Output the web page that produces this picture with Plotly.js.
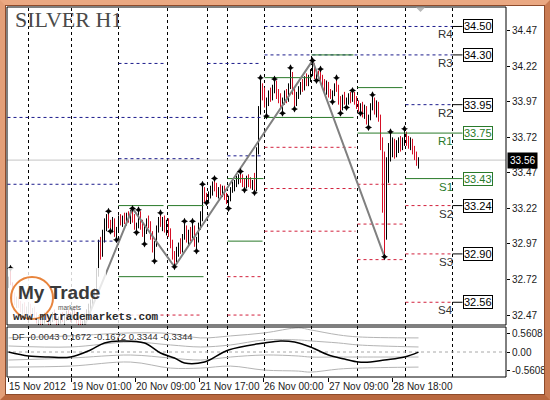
<!DOCTYPE html>
<html><head><meta charset="utf-8">
<script src="https://cdn.plot.ly/plotly-3.0.1.min.js"></script>
<style>
html,body{margin:0;padding:0;background:#fff;}
#wrap{position:relative;width:550px;height:400px;overflow:hidden;}
#chart{position:absolute;left:0;top:0;width:550px;height:400px;}
#frame{position:absolute;left:0;top:0;width:550px;height:400px;box-sizing:border-box;border:5px solid #de9670;border-color:#eaa882 #c97b53 #b9683f #e39f78;box-shadow:inset 0 0 0 1px #8e4b2b;pointer-events:none;}
</style></head>
<body><div id="wrap"><div id="chart"></div><div id="frame"></div></div>
<script>
// ---- data (H1 bars, index = bar number) ----
const barOpen = [32.70,32.72,32.69,32.60,32.56,32.58,32.54,32.51,32.53,32.49,
32.51,32.53,32.48,32.50,32.46,32.43,32.45,32.41,32.43,32.47,
32.44,32.41,32.44,32.47,32.45,32.42,32.44,32.46,32.43,32.45,
32.48,32.46,32.47,32.50,32.46,32.43,32.41,32.40,32.42,32.46,
32.49,32.53,32.56,32.60,32.63,32.78,32.95,32.90,33.03,33.12,
33.16,33.09,33.08,33.13,33.04,33.07,33.14,33.12,33.15,33.13,
33.17,33.14,33.19,33.14,33.09,33.10,33.18,33.09,33.05,33.07,
33.13,33.10,33.03,32.94,32.97,33.08,33.14,33.11,33.13,33.07,
33.12,33.04,32.96,32.88,32.86,32.92,32.95,32.93,33.02,33.06,
33.01,33.05,33.03,33.08,32.97,33.00,33.10,33.17,33.35,33.29,
33.28,33.32,33.35,33.38,33.36,33.33,33.35,33.33,33.36,33.30,
33.27,33.29,33.35,33.39,33.41,33.43,33.45,33.42,33.39,33.38,
33.43,33.39,33.37,33.40,33.36,33.62,33.90,34.06,34.02,33.96,
33.97,34.03,34.00,34.07,34.10,34.02,33.99,33.95,33.98,34.03,
33.99,34.08,34.15,34.04,33.96,34.02,34.06,34.09,34.07,34.13,
34.11,34.14,34.18,34.22,34.15,34.17,34.16,34.12,34.08,34.06,
34.09,34.02,34.01,34.03,34.08,34.06,33.97,33.93,34.00,33.97,
33.98,34.01,33.99,34.02,33.97,33.94,33.92,33.94,33.88,33.92,
33.83,33.86,33.94,33.97,33.91,33.95,33.85,33.66,33.30,33.02,
33.52,33.62,33.66,33.68,33.60,33.67,33.70,33.65,33.70,33.74,
33.69,33.66,33.70,33.62,33.58,33.55];
const barHigh = [32.74,32.80,32.70,32.63,32.60,32.60,32.57,32.55,32.56,32.53,
32.56,32.55,32.52,32.53,32.49,32.47,32.48,32.45,32.49,32.50,
32.47,32.46,32.49,32.51,32.48,32.46,32.48,32.49,32.47,32.50,
32.51,32.49,32.52,32.53,32.49,32.46,32.44,32.43,32.48,32.51,
32.55,32.58,32.62,32.66,32.80,33.00,33.02,33.07,33.15,33.18,
33.20,33.14,33.16,33.15,33.09,33.17,33.18,33.17,33.19,33.19,
33.20,33.21,33.22,33.18,33.12,33.21,33.20,33.14,33.10,33.15,
33.17,33.13,33.06,32.99,33.10,33.16,33.19,33.16,33.17,33.14,
33.15,33.08,33.00,32.92,32.95,32.98,33.01,33.04,33.13,33.10,
33.07,33.09,33.13,33.10,33.02,33.12,33.20,33.39,33.37,33.33,
33.34,33.38,33.41,33.43,33.40,33.37,33.39,33.38,33.38,33.33,
33.31,33.37,33.41,33.42,33.45,33.46,33.48,33.46,33.43,33.45,
33.46,33.44,33.42,33.47,33.65,33.94,34.14,34.10,34.07,34.00,
34.05,34.07,34.09,34.13,34.12,34.06,34.03,34.00,34.05,34.06,
34.10,34.21,34.18,34.07,34.04,34.08,34.11,34.13,34.15,34.17,
34.16,34.20,34.26,34.24,34.19,34.19,34.20,34.16,34.13,34.12,
34.11,34.06,34.05,34.10,34.14,34.09,34.01,34.02,34.04,34.00,
34.03,34.04,34.05,34.04,34.01,33.98,33.96,33.97,33.95,33.94,
33.88,33.96,34.02,34.00,33.98,33.97,33.88,33.72,33.62,33.58,
33.68,33.76,33.72,33.71,33.70,33.72,33.73,33.72,33.78,33.76,
33.73,33.72,33.71,33.66,33.62,33.58];
const barLow = [32.66,32.68,32.58,32.54,32.52,32.52,32.49,32.47,32.48,32.46,
32.48,32.46,32.44,32.45,32.41,32.39,32.40,32.37,32.41,32.42,
32.39,32.38,32.42,32.43,32.40,32.38,32.41,32.42,32.39,32.43,
32.44,32.42,32.44,32.45,32.41,32.39,32.37,32.36,32.40,32.44,
32.47,32.50,32.54,32.57,32.61,32.74,32.86,32.88,32.98,33.06,
33.08,33.06,33.05,33.02,33.00,33.05,33.10,33.09,33.11,33.10,
33.12,33.11,33.12,33.07,33.05,33.08,33.07,33.02,32.97,33.04,
33.08,33.00,32.91,32.85,32.95,33.05,33.09,33.06,33.05,33.03,
33.02,32.94,32.86,32.81,32.84,32.88,32.90,32.91,33.00,32.98,
32.96,32.99,33.01,32.95,32.92,32.98,33.07,33.13,33.26,33.26,
33.26,33.29,33.31,33.34,33.30,33.29,33.31,33.30,33.28,33.25,
33.22,33.27,33.33,33.34,33.37,33.39,33.40,33.37,33.35,33.36,
33.37,33.36,33.35,33.33,33.34,33.60,33.88,33.98,33.93,33.87,
33.94,33.97,33.98,34.03,33.99,33.96,33.93,33.89,33.95,33.96,
33.97,34.06,34.02,33.92,33.94,33.99,34.02,34.04,34.05,34.08,
34.08,34.11,34.15,34.13,34.12,34.13,34.10,34.06,34.04,34.02,
34.00,33.99,33.97,34.01,34.04,33.95,33.89,33.91,33.95,33.93,
33.95,33.96,33.97,33.95,33.92,33.90,33.89,33.86,33.85,33.81,
33.79,33.84,33.91,33.88,33.86,33.83,33.63,33.19,32.88,33.00,
33.40,33.55,33.58,33.57,33.58,33.61,33.62,33.63,33.66,33.66,
33.64,33.63,33.60,33.56,33.52,33.50];
const barClose = [32.72,32.69,32.60,32.56,32.58,32.54,32.51,32.53,32.49,32.51,
32.53,32.48,32.50,32.46,32.43,32.45,32.41,32.43,32.47,32.44,
32.41,32.44,32.47,32.45,32.42,32.44,32.46,32.43,32.45,32.48,
32.46,32.45,32.50,32.46,32.43,32.41,32.40,32.42,32.46,32.49,
32.53,32.56,32.60,32.63,32.78,32.95,32.90,33.03,33.12,33.16,
33.09,33.08,33.13,33.04,33.07,33.14,33.12,33.15,33.13,33.17,
33.14,33.19,33.14,33.09,33.10,33.18,33.09,33.05,33.07,33.13,
33.10,33.03,32.94,32.97,33.08,33.14,33.11,33.13,33.07,33.12,
33.04,32.96,32.88,32.86,32.92,32.95,32.93,33.02,33.06,33.01,
33.05,33.03,33.08,32.97,33.00,33.10,33.17,33.35,33.29,33.28,
33.32,33.35,33.38,33.36,33.33,33.35,33.33,33.36,33.30,33.27,
33.29,33.35,33.39,33.41,33.43,33.45,33.42,33.39,33.38,33.43,
33.39,33.37,33.40,33.36,33.62,33.90,34.06,34.02,33.96,33.97,
34.03,34.00,34.07,34.10,34.02,33.99,33.95,33.98,34.03,33.99,
34.08,34.15,34.04,33.96,34.02,34.06,34.09,34.07,34.13,34.11,
34.14,34.18,34.22,34.15,34.17,34.16,34.12,34.08,34.06,34.09,
34.02,34.01,34.03,34.08,34.06,33.97,33.93,34.00,33.97,33.98,
34.01,33.99,34.02,33.97,33.94,33.92,33.94,33.88,33.92,33.83,
33.86,33.94,33.97,33.91,33.95,33.85,33.66,33.30,33.02,33.52,
33.62,33.66,33.68,33.60,33.67,33.70,33.65,33.70,33.74,33.69,
33.66,33.70,33.62,33.58,33.55,33.56];

// fractal markers (bar, price)
const fractalBar = [1,50,51,54,62,64,65,68,73,76,83,88,92,94,97,99,103,110,116,118,123,126,129,133,137,141,143,152,154,156,162,164,166,169,172,176,180,182,188,191,198];
const fractalPrice = [32.80,33.20,33.06,33.00,33.22,33.05,33.21,32.97,32.85,33.19,32.81,33.13,33.13,32.92,33.39,33.26,33.43,33.22,33.48,33.35,33.33,34.14,33.87,34.13,33.89,34.21,33.92,34.26,34.12,34.20,33.97,34.14,33.89,33.93,34.05,33.89,33.79,34.02,32.88,33.76,33.78];

// zigzag pivots
const zigBar = [37,62,83,152,188];
const zigPrice = [32.36,33.22,32.81,34.26,32.88];

// daily pivot-level segments: from bar, to bar, price, kind (R = resistance dashed, P = solid green, S = support dashed)
const levelFrom  = [55,99.5,-0.5,109.5,55,109.5,-0.5,-0.5,128,128,198.5,
                    55,79.5,55,79.5,109.5,109.5,128,128,151.5,174.5,174.5,198.5,
                    128,128,128,174.5,174.5,174.5,198.5,198.5,198.5,109.5,109.5,55];
const levelTo    = [77.5,126,97,127.5,97,127.5,54.5,54.5,222,222,222,
                    77.5,97.5,77.5,97.5,127,127.5,151.5,172.5,172.5,197,227,227,
                    173.5,173.5,173.5,197,197,197,222,222,222,127,127,97];
const levelPrice = [34.24,34.24,33.86,33.86,33.57,33.59,33.39,32.99,34.50,34.30,33.95,
                    33.24,33.24,32.74,32.74,32.99,33.43,34.14,33.86,34.30,34.07,33.75,33.43,
                    33.65,33.36,33.06,33.39,33.11,32.86,33.24,32.90,32.56,32.74,32.47,32.47];
const levelKind  = ['R','R','R','R','R','R','R','R','R','R','R',
                    'P','P','P','P','P','P','P','P','P','P','P','P',
                    'S','S','S','S','S','S','S','S','S','S','S','S'];

// today's labelled levels
const labelNames  = ['R4','R3','R2','R1','S1','S2','S3','S4'];
const labelValues = [34.50,34.30,33.95,33.75,33.43,33.24,32.90,32.56];

// day separators (bar positions)
const daySeparators = [10,31.5,55,79.5,99.5,109.5,128,151.5,174.5,198.5,222];

// time axis labels
const tickBars = [0,31.5,63.5,95.5,127.5,160,192];
const tickLabels = ['15 Nov 2012','19 Nov 01:00','20 Nov 09:00','21 Nov 17:00','26 Nov 00:00','27 Nov 09:00','28 Nov 18:00'];

// price axis ticks
const priceTicks = [34.47,34.22,33.97,33.72,33.47,33.22,32.97,32.72,32.47];

// DF oscillator (sampled at bars)
const dfBar = [0,10,20,31,41,48,56,68,76,83,88,98,110,128,136,143,151,160,168,175,181,188,198,205];
const dfValue = [0.00,-0.12,-0.15,-0.15,0.06,0.27,0.33,0.27,-0.03,-0.18,-0.33,-0.30,0.06,0.27,0.33,0.30,0.15,-0.09,-0.21,-0.30,-0.30,-0.24,-0.15,-0.004];
const bandBar = [0,31,61,81,96,111,128,145,151,165,175,205];
const bandUpper2 = [0.42,0.48,0.57,0.55,0.42,0.48,0.57,0.72,0.66,0.51,0.45,0.42];
const bandUpper1 = [0.18,0.15,0.30,0.21,0.15,0.21,0.36,0.36,0.33,0.27,0.21,0.15];
const bandLower1 = [-0.24,-0.18,-0.09,-0.18,-0.24,-0.15,-0.09,-0.12,-0.15,-0.15,-0.15,-0.15];
const bandLower2 = [-0.45,-0.42,-0.30,-0.48,-0.48,-0.42,-0.54,-0.57,-0.60,-0.51,-0.48,-0.45];
const dfCurrent = -0.0043;
const dfLevels = [0.1672,-0.1672,0.3344,-0.3344];
const dfAxisTicks = [0.5608,0,-0.5608];

// ---- layout helpers ----
const ML=7, MR=44, MT=7, MB=23, W=550, H=400;
const PW=W-ML-MR, PH=H-MT-MB;
const pxX = px => (px-ML)/PW;
const pxY = py => (H-MB-py)/PH;

const RED='#d40f26', BLUE='#1c1c8c', GREEN='#2a7a2a', PRED='#d2203c';

function segments(kind){
  const xs=[],ys=[];
  levelKind.forEach((k,i)=>{ if(k===kind){ xs.push(levelFrom[i],levelTo[i],null); ys.push(levelPrice[i],levelPrice[i],null);} });
  return {xs,ys};
}
const sR=segments('R'), sP=segments('P'), sS=segments('S');
const conX=[],conY=[];
labelNames.forEach((n,i)=>{ if(n!=='R1'&&n!=='S1'){conX.push(222,227,null);conY.push(labelValues[i],labelValues[i],null);} });

const barIdx = barOpen.map((_,i)=>i);

const traces = [
 {type:'scatter',mode:'lines',x:sR.xs,y:sR.ys,line:{color:BLUE,width:1,dash:'3px,3px'},xaxis:'x',yaxis:'y',hoverinfo:'skip'},
 {type:'scatter',mode:'lines',x:sS.xs,y:sS.ys,line:{color:PRED,width:1,dash:'3px,3px'},xaxis:'x',yaxis:'y',hoverinfo:'skip'},
 {type:'scatter',mode:'lines',x:sP.xs,y:sP.ys,line:{color:GREEN,width:1},xaxis:'x',yaxis:'y',hoverinfo:'skip'},
 {type:'scatter',mode:'lines',x:conX,y:conY,line:{color:'#000',width:1},xaxis:'x',yaxis:'y',hoverinfo:'skip'},
 {type:'ohlc',x:barIdx,open:barOpen,high:barHigh,low:barLow,close:barClose,xaxis:'x',yaxis:'y',
  increasing:{line:{color:'#000',width:1}},decreasing:{line:{color:RED,width:1}},tickwidth:0.25,hoverinfo:'skip'},
 {type:'scatter',mode:'lines',x:zigBar,y:zigPrice,line:{color:'#808080',width:2},xaxis:'x',yaxis:'y',hoverinfo:'skip'},
 {type:'scatter',mode:'markers',x:fractalBar,y:fractalPrice,marker:{symbol:'star-diamond',size:5,color:'#000'},xaxis:'x',yaxis:'y',hoverinfo:'skip'},
 {type:'scatter',mode:'lines',x:bandBar,y:bandUpper2,line:{color:'#b4b4b4',width:1,shape:'spline'},xaxis:'x',yaxis:'y2',hoverinfo:'skip'},
 {type:'scatter',mode:'lines',x:bandBar,y:bandUpper1,line:{color:'#b4b4b4',width:1,shape:'spline'},xaxis:'x',yaxis:'y2',hoverinfo:'skip'},
 {type:'scatter',mode:'lines',x:bandBar,y:bandLower1,line:{color:'#b4b4b4',width:1,shape:'spline'},xaxis:'x',yaxis:'y2',hoverinfo:'skip'},
 {type:'scatter',mode:'lines',x:bandBar,y:bandLower2,line:{color:'#b4b4b4',width:1,shape:'spline'},xaxis:'x',yaxis:'y2',hoverinfo:'skip'},
 {type:'scatter',mode:'lines',x:dfBar,y:dfValue,line:{color:'#000',width:1.5,shape:'spline'},xaxis:'x',yaxis:'y2',hoverinfo:'skip'}
];

const lastClose = barClose[barClose.length-1];
const shapes = [];
daySeparators.forEach(d=>shapes.push({type:'line',xref:'x',yref:'paper',x0:d,x1:d,y0:0,y1:1,line:{color:'#000',width:1,dash:'3px,3px'},layer:'below'}));
shapes.push({type:'line',xref:'paper',yref:'y',x0:0,x1:1,y0:lastClose,y1:lastClose,line:{color:'#c4c4c4',width:1},layer:'below'});
shapes.push({type:'line',xref:'paper',yref:'y2',x0:0,x1:1,y0:0,y1:0,line:{color:'#a8a8a8',width:1,dash:'3px,3px'},layer:'below'});
// logo backdrop
shapes.push({type:'rect',xref:'paper',yref:'paper',x0:pxX(8),x1:pxX(106),y0:pxY(324),y1:pxY(268),fillcolor:'rgba(255,255,255,0.82)',line:{width:0},layer:'above'});
shapes.push({type:'rect',xref:'paper',yref:'paper',x0:pxX(106),x1:pxX(159),y0:pxY(323),y1:pxY(309),fillcolor:'rgba(255,255,255,0.82)',line:{width:0},layer:'above'});
shapes.push({type:'circle',xref:'paper',yref:'paper',x0:pxX(11),x1:pxX(53),y0:pxY(319),y1:pxY(277),line:{color:'#e8843c',width:2},fillcolor:'rgba(255,255,255,0.5)',layer:'above'});
// panel borders
shapes.push({type:'rect',xref:'paper',yref:'y domain',x0:0,x1:1,y0:0,y1:1,line:{color:'#000',width:1},layer:'above'});
shapes.push({type:'rect',xref:'paper',yref:'y2 domain',x0:0,x1:1,y0:0,y1:1,line:{color:'#000',width:1},layer:'above'});
// chart shift marker
shapes.push({type:'path',xref:'paper',yref:'paper',path:`M ${pxX(416)} ${pxY(7.5)} L ${pxX(425)} ${pxY(7.5)} L ${pxX(420.5)} ${pxY(12)} Z`,fillcolor:'#b8b8b8',line:{width:0},layer:'above'});

const ann = [];
ann.push({xref:'paper',yref:'paper',x:pxX(13),y:pxY(20),xanchor:'left',yanchor:'middle',text:'SILVER H1',showarrow:false,font:{family:'Liberation Serif',size:22,color:'#4a4a4a'}});
ann.push({xref:'paper',yref:'paper',x:pxX(10),y:pxY(336),xanchor:'left',yanchor:'middle',showarrow:false,
  text:'DF '+dfCurrent.toFixed(4)+' '+dfLevels.map(v=>v.toFixed(4)).join(' '),font:{family:'Liberation Sans',size:9.5,color:'#333'}});
ann.push({xref:'paper',yref:'y',x:1,y:lastClose,xanchor:'left',yanchor:'middle',showarrow:false,text:lastClose.toFixed(2),
  bgcolor:'#000',font:{family:'Liberation Sans',size:10,color:'#fff'},borderpad:2,xshift:1});
labelNames.forEach((n,i)=>{
  const g = (n==='R1'||n==='S1');
  const c = g?GREEN:'#000';
  ann.push({xref:'x',yref:'y',x:227,y:labelValues[i],xanchor:'left',yanchor:'middle',showarrow:false,text:labelValues[i].toFixed(2),
    bgcolor:'#fff',bordercolor:c,borderwidth:1,borderpad:0,font:{family:'Liberation Sans',size:11,color:c}});
  ann.push({xref:'x',yref:'y',x:223,y:labelValues[i],xanchor:'right',yanchor:'top',showarrow:false,text:n,
    font:{family:'Liberation Sans',size:11.5,color:g?GREEN:'#333'}});
});
// logo text
ann.push({xref:'paper',yref:'paper',x:pxX(16),y:pxY(292),xanchor:'left',yanchor:'middle',showarrow:false,text:'My Trade',
  font:{family:'Liberation Sans',size:19,color:'#3a3a3a',weight:'bold'}});
ann.push({xref:'paper',yref:'paper',x:pxX(56),y:pxY(307),xanchor:'left',yanchor:'middle',showarrow:false,text:'markets',
  font:{family:'Liberation Sans',size:6.5,color:'#555'}});
ann.push({xref:'paper',yref:'paper',x:pxX(11),y:pxY(316.5),xanchor:'left',yanchor:'middle',showarrow:false,text:'www.mytrademarkets.com',
  font:{family:'Liberation Mono',size:11,color:'#2a2a2a',weight:'bold'}});

const layout = {
  width:W,height:H,margin:{l:ML,r:MR,t:MT,b:MB,pad:0},
  paper_bgcolor:'#fff',plot_bgcolor:'#fff',showlegend:false,hovermode:false,
  font:{family:'Liberation Sans',size:10,color:'#1a1a1a'},
  xaxis:{anchor:'y2',range:[-0.75,248.75],showgrid:false,zeroline:false,showline:false,automargin:false,
    rangeslider:{visible:false},tickmode:'array',tickvals:tickBars,ticktext:tickLabels,tickangle:0,
    ticks:'outside',ticklen:4,tickcolor:'#000',ticklabelposition:'outside right',
    tickfont:{family:'Liberation Sans',size:10,color:'#1a1a1a'}},
  yaxis:{domain:[(H-MB-325)/PH,1],range:[32.400,34.637],side:'right',showgrid:false,zeroline:false,automargin:false,
    tickmode:'array',tickvals:priceTicks,ticktext:priceTicks.map(v=>v.toFixed(2)),ticks:'outside',ticklen:3,tickcolor:'#000',
    tickfont:{family:'Liberation Sans',size:10,color:'#1a1a1a'}},
  yaxis2:{domain:[0,(H-MB-327)/PH],range:[-0.746,0.746],side:'right',showgrid:false,zeroline:false,automargin:false,
    tickmode:'array',tickvals:dfAxisTicks,ticktext:dfAxisTicks.map(v=>v===0?'0.00':v.toFixed(4)),ticks:'outside',ticklen:3,tickcolor:'#000',
    tickfont:{family:'Liberation Sans',size:10,color:'#1a1a1a'}},
  shapes:shapes,annotations:ann
};
Plotly.newPlot('chart',traces,layout,{staticPlot:true,displayModeBar:false});
</script></body></html>
